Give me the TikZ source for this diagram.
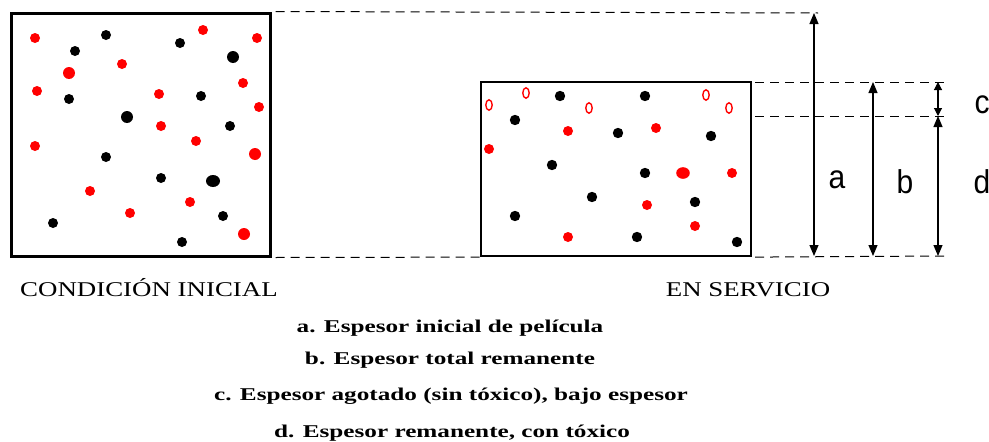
\documentclass[tikz,border=0pt]{standalone}
\usepackage{fontspec}
\setmainfont{Liberation Serif}
\newfontfamily\capfont[FakeStretch=1.28]{Liberation Serif}
\newfontfamily\legfont[FakeStretch=1.4]{Liberation Serif}
\newfontfamily\lblfont{Liberation Sans}
\usetikzlibrary{arrows.meta}
\begin{document}
\begin{tikzpicture}[x=1pt,y=-1pt,
  boxL/.style={draw, line width=3pt, inner sep=0pt},
  boxR/.style={draw, line width=2.2pt, inner sep=0pt},
  dashline/.style={line width=1pt, dash pattern=on 9pt off 6pt},
  dimarrow/.style={line width=1.1pt, {Triangle[width=9pt,length=11pt]}-{Triangle[width=9pt,length=11pt]}},
  smallarrow/.style={line width=1.1pt, {Triangle[width=8pt,length=8pt]}-{Triangle[width=8pt,length=8pt]}},
  caption/.style={font=\capfont\fontsize{21}{24}\selectfont, anchor=base, inner sep=0pt},
  legend/.style={font=\legfont\bfseries\fontsize{18}{21}\selectfont, anchor=base, inner sep=0pt},
  letter/.style={font=\lblfont\fontsize{30}{32}\selectfont, anchor=base, inner sep=0pt}]
\useasboundingbox (0,0) rectangle (989,442);
% boxes
\node[boxL, minimum width=259pt, minimum height=243pt] (L) at (140.5,134.5) {};
\node[boxR, minimum width=270pt, minimum height=174pt] (R) at (616,169) {};
% left box dots
\foreach \p in {(35,38),(203,30),(257,38),(122,64),(37,91),(243,83),(159,94),(259,107),(161,126),(196,141),(35,146),(90,191),(190,202),(130,213)}
  \fill[red] \p circle (5);
\foreach \p in {(69,73),(255,154),(244,234)}
  \fill[red] \p circle (6);
\foreach \p in {(106,35),(75,51),(180,43),(69,99),(201,96),(230,126),(106,157),(161,178),(223,216),(53,223),(182,242)}
  \fill[black] \p circle (5);
\foreach \p in {(233,57),(127,117)}
  \fill[black] \p circle (6);
\fill[black] (213,181) ellipse (7 and 6);
% right box dots
\foreach \p in {(560,96),(645,96),(515,120),(618,133),(711,136),(552,165),(645,173),(592,197),(695,202),(515,216),(637,237),(737,242)}
  \fill[black] \p circle (5.2);
\foreach \p in {(568,131),(656,128),(489,149),(732,173),(647,205),(695,226),(568,237)}
  \fill[red] \p circle (5);
\fill[red] (683,173) ellipse (6.8 and 5.8);
\foreach \p in {(489,105),(526,93),(589,108),(706,95),(729,108)}
  \draw[red, line width=1.4pt] \p ellipse (3.2 and 5.2);
% dimension coordinates
\coordinate (aT) at (814,13);
\coordinate (aB) at (814,256);
\coordinate (bT) at (873,82);
\coordinate (bB) at (873,256);
\coordinate (cT) at (938,82);
\coordinate (cM) at (938,116);
\coordinate (cB) at (938,256);
\coordinate (topEnd) at (818,13);
\coordinate (l2S) at (755,82);
\coordinate (l2E) at (945,82);
\coordinate (l3S) at (755,116);
\coordinate (l3E) at (945,116);
\coordinate (l4E) at (945,256);
% dashed lines
\draw[dashline] ([xshift=4pt]L.north east) -- (topEnd);
\draw[dashline] (l2S) -- (l2E);
\draw[dashline] (l3S) -- (l3E);
\draw[dashline] ([xshift=4pt]L.south east) -- (R.south west);
\draw[dashline] ([xshift=3pt]R.south east) -- (l4E);
% arrows
\draw[dimarrow] (aT) -- (aB);
\draw[dimarrow] (bT) -- (bB);
\draw[smallarrow] (cT) -- (cM);
\draw[dimarrow] (cM) -- (cB);
% letters
\node[letter] (la) at (837,188) {\scalebox{1}[1.1]{a}};
\node[letter] (lb) at (905,193) {\scalebox{1}[1.1]{b}};
\node[letter] (lc) at (982,113) {\scalebox{1}[1.1]{c}};
\node[letter] (ld) at (982,193) {\scalebox{1}[1.1]{d}};
% captions
\node[caption] (capL) at (149,296) {CONDICIÓN INICIAL};
\node[caption] (capR) at (748,296) {EN SERVICIO};
\node[legend] (ta) at (450,332) {a. Espesor inicial de película};
\node[legend] (tb) at (450,364) {b. Espesor total remanente};
\node[legend] (tc) at (451,400) {c. Espesor agotado (sin tóxico), bajo espesor};
\node[legend] (td) at (452,437) {d. Espesor remanente, con tóxico};
\end{tikzpicture}
\end{document}
